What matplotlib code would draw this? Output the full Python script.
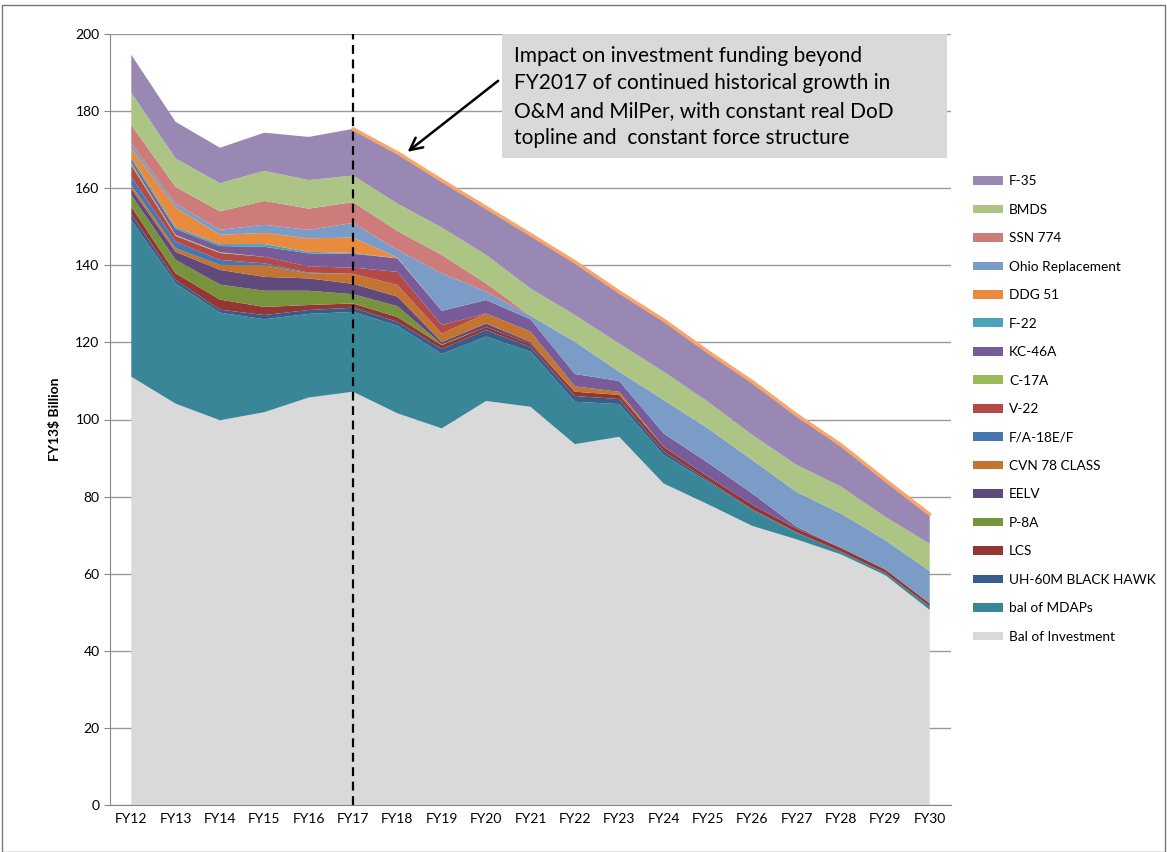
import numpy as np
import matplotlib
matplotlib.use("Agg")
import matplotlib.pyplot as plt
from matplotlib.patches import Rectangle

plt.rcParams['font.family'] = ['Lato', 'DejaVu Sans']

years = ['FY12', 'FY13', 'FY14', 'FY15', 'FY16', 'FY17', 'FY18', 'FY19', 'FY20', 'FY21',
         'FY22', 'FY23', 'FY24', 'FY25', 'FY26', 'FY27', 'FY28', 'FY29', 'FY30']

# stacked bottom -> top, FY13$ billion
bal_investment = [111.1, 104.1, 99.8, 101.9, 105.7, 107.2, 101.6, 97.7, 104.8, 103.3,
                  93.6, 95.5, 83.4, 78.0, 72.4, 68.9, 65.0, 59.6, 50.6]
bal_mdaps = [40.6, 31.2, 27.9, 24.1, 21.7, 20.7, 22.7, 19.3, 16.7, 14.3,
             11.0, 8.5, 7.4, 5.8, 4.1, 1.7, 0.7, 0.6, 0.9]
uh60m = [1.6, 0.9, 0.8, 1.1, 1.0, 1.1, 1.0, 1.3, 1.7, 1.2,
         1.5, 1.3, 1.0, 0.4, 0.2, 0.1, 0.0, 0.0, 0.0]
lcs = [1.9, 1.7, 2.6, 2.1, 1.3, 1.1, 1.3, 1.0, 0.8, 0.8,
       1.1, 1.1, 1.1, 1.0, 1.2, 1.0, 1.0, 0.9, 0.8]
p8a = [3.0, 3.5, 3.9, 4.2, 3.7, 2.4, 2.8, 0.2, 0.0, 0.0,
       0.0, 0.0, 0.0, 0.0, 0.0, 0.0, 0.0, 0.0, 0.0]
eelv = [1.7, 2.1, 3.8, 3.6, 3.2, 2.7, 2.5, 0.6, 0.9, 0.5,
        0.0, 0.0, 0.0, 0.0, 0.0, 0.0, 0.0, 0.0, 0.0]
cvn78 = [0.9, 0.9, 1.3, 3.0, 1.3, 2.6, 3.0, 2.2, 2.6, 2.7,
         1.4, 0.8, 0.0, 0.0, 0.0, 0.0, 0.0, 0.0, 0.0]
fa18 = [2.1, 1.7, 1.3, 0.5, 0.2, 0.0, 0.0, 0.0, 0.0, 0.0,
        0.0, 0.0, 0.0, 0.0, 0.0, 0.0, 0.0, 0.0, 0.0]
v22 = [3.1, 1.5, 1.8, 1.7, 1.6, 1.6, 3.4, 2.2, 0.0, 0.0,
       0.0, 0.0, 0.0, 0.0, 0.0, 0.0, 0.0, 0.0, 0.0]
c17a = [0.6, 0.3, 0.2, 0.0, 0.0, 0.0, 0.0, 0.0, 0.0, 0.0,
        0.0, 0.0, 0.0, 0.0, 0.0, 0.0, 0.0, 0.0, 0.0]
kc46a = [0.8, 1.5, 1.6, 2.6, 3.4, 3.6, 3.5, 3.7, 3.5, 3.2,
         3.2, 2.8, 3.5, 3.6, 2.9, 0.5, 0.0, 0.0, 0.0]
f22 = [0.7, 0.5, 0.5, 0.7, 0.4, 0.2, 0.0, 0.0, 0.0, 0.0,
       0.0, 0.0, 0.0, 0.0, 0.0, 0.0, 0.0, 0.0, 0.0]
ddg51 = [2.2, 5.1, 2.4, 2.9, 3.5, 4.0, 0.2, 0.0, 0.0, 0.0,
         0.0, 0.0, 0.0, 0.0, 0.0, 0.0, 0.0, 0.0, 0.0]
ohio = [1.2, 1.0, 1.3, 2.1, 2.2, 3.8, 2.0, 9.7, 2.2, 0.9,
        8.4, 2.4, 8.7, 8.9, 8.7, 9.0, 8.9, 7.6, 8.4]
ssn774 = [4.9, 4.3, 4.8, 6.2, 5.5, 5.4, 4.9, 4.8, 2.1, 0.0,
          0.0, 0.0, 0.0, 0.0, 0.0, 0.0, 0.0, 0.0, 0.0]
bmds = [8.4, 7.4, 7.3, 7.8, 7.4, 6.9, 7.1, 7.1, 7.4, 7.1,
        6.9, 7.3, 7.3, 6.9, 6.5, 7.0, 7.0, 6.0, 7.1]
f35 = [9.8, 9.5, 9.2, 9.9, 11.2, 12.1, 13.2, 12.2, 12.3, 14.0,
       13.8, 13.4, 13.4, 13.0, 13.8, 13.0, 10.8, 9.6, 7.6]

labels = ['Bal of Investment', 'bal of MDAPs', 'UH-60M BLACK HAWK', 'LCS', 'P-8A', 'EELV',
          'CVN 78 CLASS', 'F/A-18E/F', 'V-22', 'C-17A', 'KC-46A', 'F-22', 'DDG 51',
          'Ohio Replacement', 'SSN 774', 'BMDS', 'F-35']
colors = ['#D9D9D9', '#3A8699', '#385D8A', '#943634', '#77933C', '#604A7B',
          '#C47431', '#4677B0', '#B44A47', '#9BBB59', '#775C99', '#4AA3B8', '#E98B3F',
          '#7C9CC8', '#CD7B7B', '#ADC584', '#9A88B4']

series = [bal_investment, bal_mdaps, uh60m, lcs, p8a, eelv, cvn78, fa18, v22, c17a,
          kc46a, f22, ddg51, ohio, ssn774, bmds, f35]

x = np.arange(len(years))

fig = plt.figure(figsize=(11.67, 8.52), dpi=100)
ax = fig.add_axes([110 / 1167, 1 - 805 / 852, (951 - 110) / 1167, (805 - 34) / 852])

polys = ax.stackplot(x, *series, colors=colors, labels=labels, linewidth=0)

# constant topline from FY17 on
total = np.sum(np.array(series), axis=0)
start = years.index('FY17')
ax.plot(x[start:], total[start:], color='#F9A66B', lw=2.5, solid_capstyle='round')

ax.axvline(start, color='black', ls=(0, (4, 2.5)), lw=1.6)

ax.set_xlim(-0.48, len(years) - 0.52)
ax.set_ylim(0, 200)
ax.set_yticks(range(0, 201, 20))
ax.set_xticks(x)
ax.set_xticklabels(years)
ax.tick_params(axis='both', labelsize=10, colors='#000000')
ax.tick_params(axis='y', length=4, color='#888888')
ax.tick_params(axis='x', length=0, pad=6)
ax.yaxis.grid(True, color='#9A9A9A', lw=1)
ax.set_axisbelow(True)
for s in ['top', 'right']:
    ax.spines[s].set_visible(False)
for s in ['left', 'bottom']:
    ax.spines[s].set_color('#888888')
ax.set_ylabel('FY13$ Billion', fontsize=10, fontweight='bold', labelpad=10)

# annotation box and arrow
fig.patches.append(Rectangle((502 / 1167, 1 - 158 / 852), 445 / 1167, 124 / 852,
                             transform=fig.transFigure, facecolor='#D9D9D9',
                             edgecolor='none', zorder=5))
fig.text(514 / 1167, 1 - 97 / 852,
         'Impact on investment funding beyond\nFY2017 of continued historical growth in\n'
         'O&M and MilPer, with constant real DoD\ntopline and  constant force structure',
         fontsize=15, va='center', ha='left', linespacing=1.45, zorder=6)
ax.annotate('', xy=(6.18, 169.0), xytext=(8.32, 188.3),
            arrowprops=dict(arrowstyle='->', color='black', lw=1.8, mutation_scale=22),
            annotation_clip=False)

handles, labs = ax.get_legend_handles_labels()
leg = fig.legend(handles[::-1], labs[::-1], loc='center left',
                 bbox_to_anchor=(973 / 1167, 1 - 409 / 852), frameon=False,
                 fontsize=9.8, labelspacing=1.21, handlelength=2.2, handleheight=0.6,
                 handletextpad=0.45, borderaxespad=0, borderpad=0)

fig.patches.append(Rectangle((0.002, 0.0), 0.996, 0.994, transform=fig.transFigure,
                             fill=False, edgecolor='#777777', lw=1))

fig.savefig('out.png', dpi=100)
